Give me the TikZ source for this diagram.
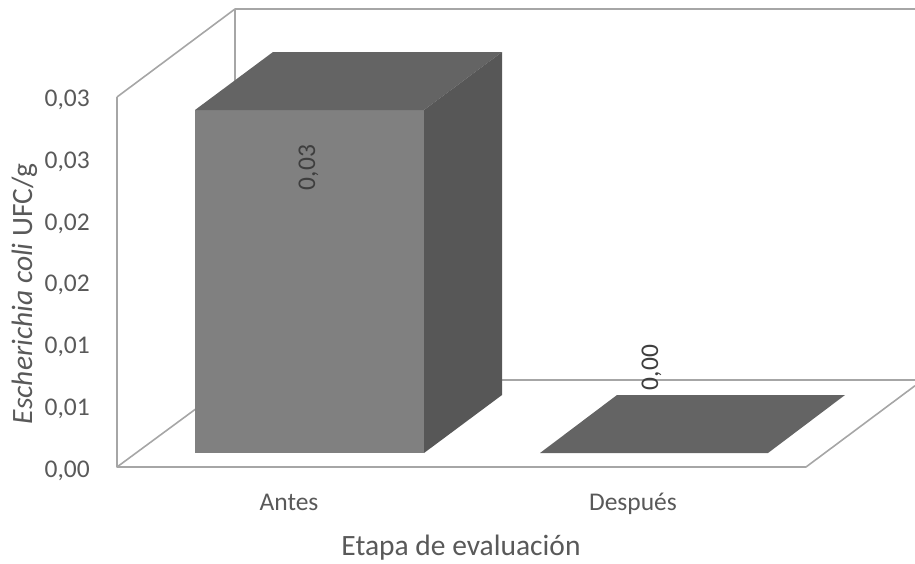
\documentclass[tikz,border=0pt]{standalone}
\usepackage{fontspec}
\setmainfont{Carlito}
\definecolor{framegray}{HTML}{A6A6A6}
\definecolor{textgray}{HTML}{595959}
\definecolor{barfront}{HTML}{808080}
\definecolor{bartop}{HTML}{646464}
\definecolor{barside}{HTML}{575757}

\begin{document}
\begin{tikzpicture}[x=1pt,y=-1pt,
  frame line/.style={draw=framegray,line width=1.6pt,line join=round},
  tick label/.style={anchor=base east,inner sep=0pt,text=textgray,font=\fontsize{25.5}{30}\selectfont},
  cat label/.style={anchor=base,inner sep=0pt,text=textgray,font=\fontsize{25.5}{30}\selectfont},
  value label/.style={anchor=base,inner sep=0pt,rotate=90,text=textgray!70!black,font=\fontsize{25.5}{30}\selectfont},
  axis title/.style={anchor=base,inner sep=0pt,text=textgray,font=\fontsize{29.5}{34}\selectfont}]
  \useasboundingbox (0,0) rectangle (915,563);
  % walls and floor
  \coordinate (o) at (117,467);
  \coordinate (ot) at (117,97);
  \coordinate (ob) at (235,380);
  \coordinate (obt) at (235,9);
  \coordinate (fr) at (806,467);
  \draw[frame line] (ot) -- (o) -- (fr) -- (915,385.7);
  \draw[frame line] (o) -- (ob) -- (915,380);
  \draw[frame line] (ot) -- (obt) -- (915,9);
  \draw[frame line] (obt) -- (ob);
  % bar Antes
  \fill[barfront] (195,110) rectangle (424,453);
  \fill[bartop] (195,110) -- (273,52) -- (502,52) -- (424,110) -- cycle;
  \fill[barside] (424,110) -- (502,52) -- (502,395) -- (424,453) -- cycle;
  % bar Despues
  \fill[bartop] (540,453) -- (768,453) -- (845,395) -- (617,395) -- cycle;
  % labels
  \foreach \v [count=\i from 0] in {{0,00},{0,01},{0,01},{0,02},{0,02},{0,03},{0,03}}
    \node[tick label] (t\i) at (90,477-61.67*\i) {\v};
  \node[value label] (v1) at (315,167.5) {0,03};
  \node[value label] (v2) at (658,367.5) {0,00};
  \node[cat label] (c1) at (289,510) {Antes};
  \node[cat label] (c2) at (633,510) {Después};
  \node[axis title] (xt) at (461,555) {Etapa de evaluación};
  \node[axis title,rotate=90] (yt) at (32,294) {\textit{Escherichia coli} UFC/g};
\end{tikzpicture}
\end{document}
